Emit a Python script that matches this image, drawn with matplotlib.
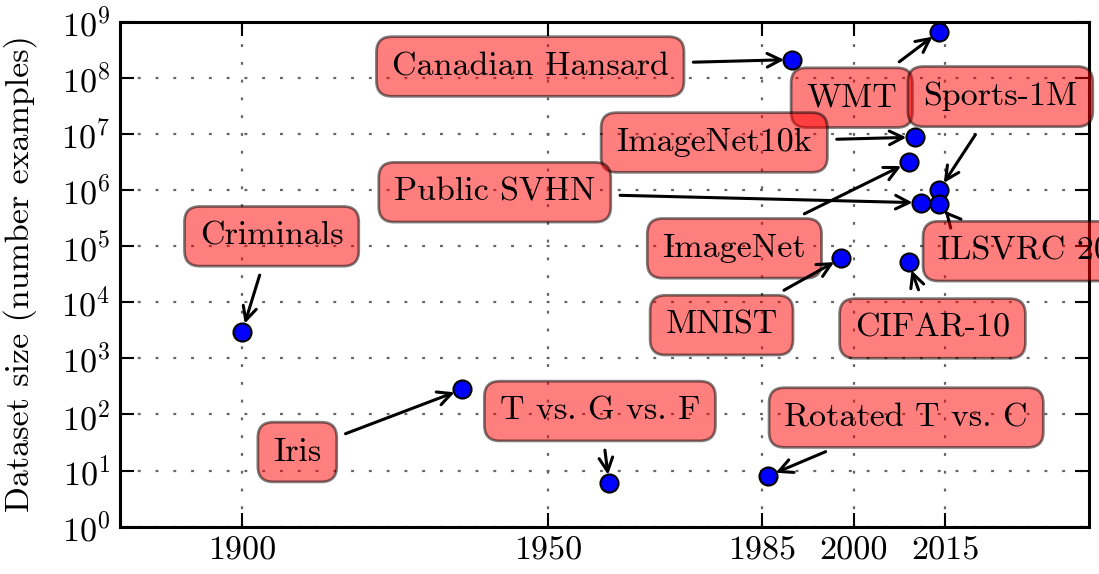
import matplotlib.pyplot as plt
import numpy as np

plt.rcParams['font.family'] = ['cmr10', 'DejaVu Serif']
plt.rcParams['mathtext.fontset'] = 'cm'
plt.rcParams['axes.formatter.use_mathtext'] = True
plt.rcParams['font.size'] = 24.5

# Benchmark datasets: year of release and number of examples
datasets = ['Criminals', 'Iris', 'T vs. G vs. F', 'Rotated T vs. C',
            'Canadian Hansard', 'WMT', 'Sports-1M', 'ImageNet10k',
            'Public SVHN', 'ImageNet', 'MNIST', 'CIFAR-10', 'ILSVRC 2014']
years = [1900, 1936, 1960, 1986, 1990, 2014, 2014, 2010, 2011, 2009, 1998, 2009, 2014]
sizes = [3.0e3, 2.8e2, 6, 8, 2.1e8, 6.6e8, 1.0e6, 8.7e6, 5.9e5, 3.1e6, 6.1e4, 5.1e4, 5.5e5]

# where each label box sits (year, size)
label_pos = [(1904.8, 1.49e5), (1909.0, 21.4), (1958.5, 115), (2008.6, 88),
             (1947.1, 1.58e8), (1999.7, 4.4e7), (2024.0, 4.6e7), (1977.2, 7.0e6),
             (1941.3, 9.1e5), (1980.5, 9.1e4), (1978.4, 3.9e3), (2012.9, 3.4e3),
             (2030.8, 8.1e4)]
arrow_relpos = {'ILSVRC 2014': (0.2, 0.5)}

xticks = [1900, 1950, 1985, 2000, 2015]

fig = plt.figure(figsize=(10.99, 5.74), dpi=100)
ax = fig.add_axes([0.1092, 0.0824, 0.8817, 0.8801])

ax.set_yscale('log')
ax.set_xlim(1880, 2038.5)
ax.set_ylim(1, 1e9)
ax.set_xticks(xticks)
ax.set_xticklabels([str(t) for t in xticks])
ax.set_yticks([10.0 ** k for k in range(10)])

ax.grid(True, which='major', color='0.4', linestyle=(0, (1.3, 6.7)), linewidth=1.6)
for sp in ax.spines.values():
    sp.set_linewidth(2.2)
ax.tick_params(which='both', direction='in', top=True, right=True)
ax.tick_params(which='major', length=10, width=1.5, pad=7)
ax.tick_params(which='minor', length=5.5, width=1.2)
ax.tick_params(axis='x', which='minor', top=False, bottom=False)

ax.plot(years, sizes, 'o', color='b', markersize=13, markeredgecolor='k',
        markeredgewidth=1.5, zorder=5)

for name, yr, n, (lx, ly) in zip(datasets, years, sizes, label_pos):
    ax.annotate(name, xy=(yr, n), xytext=(lx, ly), ha='center', va='center',
                bbox=dict(boxstyle='round,pad=0.45', fc='red', ec='k', lw=2, alpha=0.5),
                arrowprops=dict(arrowstyle='->', color='k', lw=2.2, shrinkA=6, shrinkB=6,
                                relpos=arrow_relpos.get(name, (0.5, 0.5))),
                annotation_clip=False, zorder=4)

ax.set_ylabel('Dataset size (number examples)')
ax.yaxis.set_label_coords(-0.086, 0.5)

fig.savefig('out.png', dpi=100)
